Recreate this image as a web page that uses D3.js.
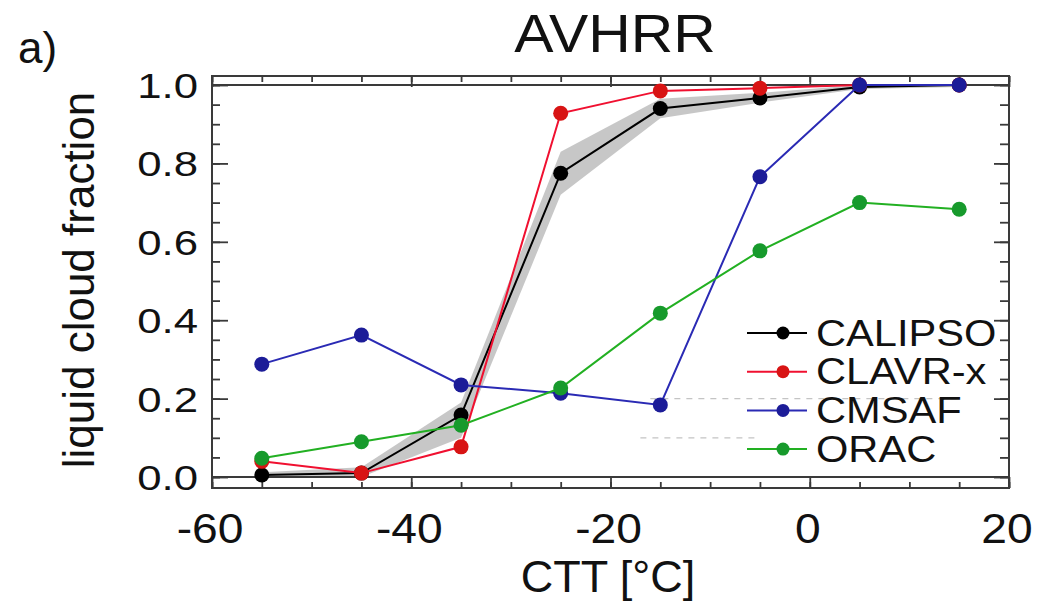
<!DOCTYPE html>
<html>
<head>
<meta charset="utf-8">
<script src="https://cdn.jsdelivr.net/npm/d3@7"></script>
<style>
  html, body { margin: 0; padding: 0; background: #fff; }
  svg { display: block; font-family: "Liberation Sans", Arial, sans-serif; }
</style>
</head>
<body>
<svg id="chart" width="1039" height="604"></svg>
<script>
// ---- data ----
const ctt = [-55, -45, -35, -25, -15, -5, 5, 15];
const calipso   = [0.005, 0.01, 0.158, 0.775, 0.94, 0.967, 0.995, 1.0];
const calipsoLo = [0.0, 0.0, 0.10, 0.72, 0.915, 0.955, 0.99, 0.995];
const calipsoHi = [0.012, 0.025, 0.19, 0.83, 0.965, 0.98, 1.0, 1.0];
const clavrx = [0.04, 0.01, 0.077, 0.928, 0.985, 0.992, 1.0, 1.0];
const cmsaf  = [0.288, 0.362, 0.235, 0.214, 0.184, 0.766, 1.0, 1.0];
const orac   = [0.048, 0.09, 0.132, 0.227, 0.418, 0.577, 0.70, 0.683];
const seriesNames = ["CALIPSO", "CLAVR-x", "CMSAF", "ORAC"];
const xTicks = [-60, -40, -20, 0, 20];
const xMinorTicks = d3.range(-60, 20.001, 5);
const yTicks = [0.0, 0.2, 0.4, 0.6, 0.8, 1.0];
const yMinorTicks = d3.range(0, 1.0001, 0.05);
const faintRefs = [{y: 0.2, x0: -16, x1: 15}, {y: 0.1, x0: -17, x1: -5}];

const lineColors   = ["#000000", "#f01030", "#2a2ab4", "#22b022"];
const markerColors = ["#000000", "#d81414", "#1c1c98", "#179a2c"];
const seriesVals = [calipso, clavrx, cmsaf, orac];

// ---- layout ----
const svg = d3.select("#chart");
const L = 212, R = 1009, T = 76, B = 488;
const x = d3.scaleLinear().domain([-60, 20]).range([L, R]);
const y = d3.scaleLinear().domain([-0.028, 1.023]).range([B, T]);

// faint dashed reference lines
svg.append("g").selectAll("line").data(faintRefs).join("line")
  .attr("x1", d => x(d.x0)).attr("x2", d => x(d.x1))
  .attr("y1", d => y(d.y)).attr("y2", d => y(d.y))
  .attr("stroke", "#c4c4c4").attr("stroke-width", 1.2).attr("stroke-dasharray", "6,6");

// uncertainty band
const area = d3.area()
  .x((d, i) => x(ctt[i]))
  .y0((d, i) => y(calipsoLo[i]))
  .y1((d, i) => y(calipsoHi[i]));
svg.append("path").datum(ctt).attr("d", area)
  .attr("fill", "#bdbdbd").attr("opacity", 0.85);

// horizontal lines at 0 and 1
svg.append("g").selectAll("line").data([0, 1]).join("line")
  .attr("x1", L).attr("x2", R)
  .attr("y1", d => y(d)).attr("y2", d => y(d))
  .attr("stroke", "#3a3a3a").attr("stroke-width", 2);

// frame
svg.append("rect").attr("x", L).attr("y", T).attr("width", R - L).attr("height", B - T)
  .attr("fill", "none").attr("stroke", "#3a3a3a").attr("stroke-width", 2);

// axes ticks (inward)
const axL = d3.axisRight(y).tickValues(yMinorTicks).tickSize(8).tickFormat("");
const gL = svg.append("g").attr("transform", `translate(${L},0)`).call(axL);
const axLM = d3.axisRight(y).tickValues(yTicks).tickSize(16).tickFormat("");
const gLM = svg.append("g").attr("transform", `translate(${L},0)`).call(axLM);
const axR = d3.axisLeft(y).tickValues(yMinorTicks).tickSize(9).tickFormat("");
const gR = svg.append("g").attr("transform", `translate(${R},0)`).call(axR);
const axRM = d3.axisLeft(y).tickValues(yTicks).tickSize(15).tickFormat("");
const gRM = svg.append("g").attr("transform", `translate(${R},0)`).call(axRM);
const axB = d3.axisTop(x).tickValues(xMinorTicks).tickSize(6).tickFormat("");
const gB = svg.append("g").attr("transform", `translate(0,${B})`).call(axB);
const axBM = d3.axisTop(x).tickValues(xTicks).tickSize(11).tickFormat("");
const gBM = svg.append("g").attr("transform", `translate(0,${B})`).call(axBM);
const axT = d3.axisBottom(x).tickValues(xMinorTicks).tickSize(6).tickFormat("");
const gT = svg.append("g").attr("transform", `translate(0,${T})`).call(axT);
const axTM = d3.axisBottom(x).tickValues(xTicks).tickSize(11).tickFormat("");
const gTM = svg.append("g").attr("transform", `translate(0,${T})`).call(axTM);
[gL, gLM, gR, gRM, gB, gBM, gT, gTM].forEach(g => {
  g.select(".domain").remove();
  g.selectAll(".tick line").attr("stroke", "#3a3a3a").attr("stroke-width", 1.8);
});

// y tick labels
svg.append("g").selectAll("text").data(yTicks).join("text")
  .attr("transform", d => `translate(198,${y(d) + 13}) scale(1.25,1)`)
  .attr("text-anchor", "end").attr("font-size", 35).attr("fill", "#111")
  .text(d => d3.format(".1f")(d));

// x tick labels
svg.append("g").selectAll("text").data(xTicks).join("text")
  .attr("transform", d => `translate(${x(d) - 2},543) scale(1.1,1)`)
  .attr("text-anchor", "middle").attr("font-size", 42).attr("fill", "#111")
  .text(d => d);

// axis titles
svg.append("text").attr("x", 608).attr("y", 592).attr("text-anchor", "middle")
  .attr("font-size", 45).attr("fill", "#111").text("CTT [°C]");
svg.append("text").attr("transform", "translate(94,280) rotate(-90)")
  .attr("text-anchor", "middle").attr("font-size", 44).attr("fill", "#111")
  .text("liquid cloud fraction");

// title and panel label
svg.append("text").attr("transform", "translate(615,52) scale(1.09,1)")
  .attr("text-anchor", "middle").attr("font-size", 54).attr("fill", "#111").text("AVHRR");
svg.append("text").attr("x", 18).attr("y", 63)
  .attr("font-size", 44).attr("fill", "#111").text("a)");

// series
const line = d3.line().x((d, i) => x(ctt[i])).y(d => y(d));
seriesVals.forEach((vals, k) => {
  const g = svg.append("g");
  g.append("path").datum(vals).attr("d", line)
    .attr("fill", "none").attr("stroke", lineColors[k]).attr("stroke-width", 2);
  g.selectAll("circle").data(vals).join("circle")
    .attr("cx", (d, i) => x(ctt[i])).attr("cy", d => y(d)).attr("r", 7.5)
    .attr("fill", markerColors[k]);
});

// legend
const legY0 = 333, legDY = 38.7;
const leg = svg.append("g");
seriesNames.forEach((name, k) => {
  const yy = legY0 + k * legDY;
  leg.append("line").attr("x1", 747).attr("x2", 807).attr("y1", yy).attr("y2", yy)
    .attr("stroke", lineColors[k]).attr("stroke-width", 2);
  leg.append("circle").attr("cx", 783).attr("cy", yy).attr("r", 6.5).attr("fill", markerColors[k]);
  leg.append("text").attr("transform", `translate(816,${yy + 12.5}) scale(1.11,1)`)
    .attr("font-size", 37.5).attr("fill", "#111").text(name);
});
</script>
</body>
</html>
